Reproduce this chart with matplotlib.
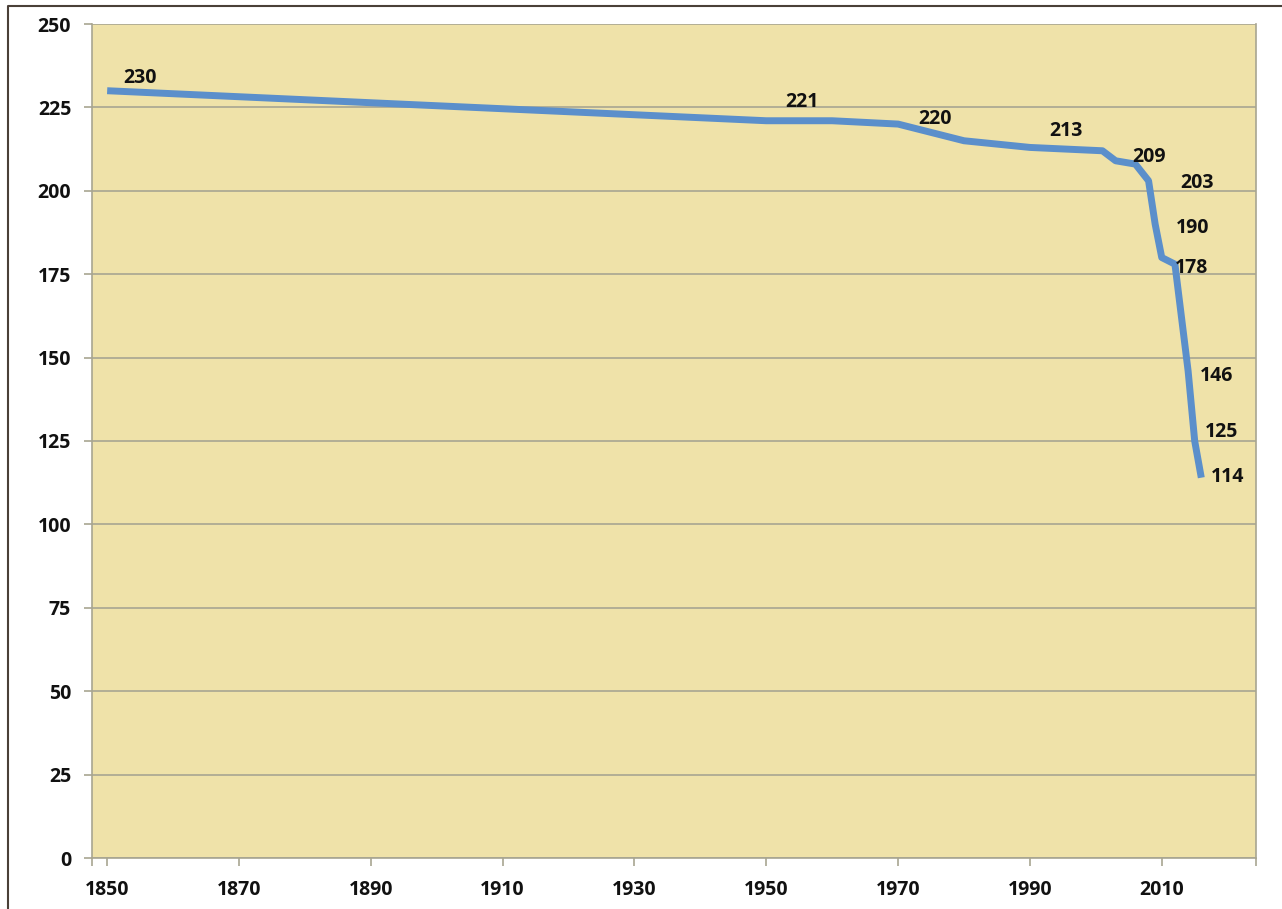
import matplotlib
matplotlib.use("Agg")
import matplotlib.pyplot as plt
from matplotlib.lines import Line2D

# data
years = [1850, 1950, 1960, 1970, 1980, 1990, 2001, 2003, 2006, 2008, 2009, 2010, 2012, 2014, 2015, 2016]
values = [230, 221, 221, 220, 215, 213, 212, 209, 208, 203, 190, 180, 178, 146, 125, 114]

# which points carry a value label, and where the label sits (pixel offset)
label_idx = [0, 1, 3, 5, 7, 9, 10, 12, 13, 14, 15]
label_off = [(33, 13), (36, 19), (37, 5), (36, 16), (33, 4), (48, -2),
             (37, -4), (17, -4), (28, -5), (27, 9), (26, 1)]

xticks = [1850, 1870, 1890, 1910, 1930, 1950, 1970, 1990, 2010]
yticks = list(range(0, 251, 25))

bg = "#EFE2A9"
grid_c = "#A8A591"
line_c = "#5B8FCB"

plt.rcParams["font.family"] = ["Open Sans", "DejaVu Sans"]
plt.rcParams["font.weight"] = "bold"

fig = plt.figure(figsize=(12.82, 9.09), dpi=100)
ax = fig.add_axes([92 / 1282, 51 / 909, 1164 / 1282, 834 / 909])
ax.set_facecolor(bg)

ax.plot(years, values, color=line_c, lw=5, solid_joinstyle="round",
        solid_capstyle="butt", zorder=3)

px = 72 / 100  # pixels -> points
for i, (dx, dy) in zip(label_idx, label_off):
    ax.annotate(str(values[i]), (years[i], values[i]),
                xytext=(dx * px, dy * px), textcoords="offset points",
                ha="center", va="center", fontsize=14, fontweight="bold",
                color="#111111", zorder=4)

ax.set_xlim(1847.7, 2024.3)
ax.set_ylim(0, 250)
ax.set_xticks(xticks)
ax.set_xticks([1847.7, 2024.3], minor=True)
ax.set_yticks(yticks)
ax.tick_params(axis="both", which="both", direction="out", length=6,
               color=grid_c, width=1.2, labelsize=14, labelcolor="#111111")
ax.tick_params(axis="x", pad=10)
ax.tick_params(axis="y", pad=9)
for lab in ax.get_xticklabels() + ax.get_yticklabels():
    lab.set_fontweight("bold")

ax.grid(axis="y", color=grid_c, lw=1.2, zorder=1)
ax.set_axisbelow(True)
for s in ["left", "bottom", "right"]:
    ax.spines[s].set_color(grid_c)
    ax.spines[s].set_linewidth(1.2)
ax.spines["top"].set_visible(False)

# dark frame round the picture (top and left edges visible)
fig.add_artist(Line2D([8 / 1282, 8 / 1282, 1.0], [0.0, 1 - 6 / 909, 1 - 6 / 909],
                      transform=fig.transFigure, color="#4A4038", lw=1.5))

fig.savefig("out.png", dpi=100, facecolor="white")
